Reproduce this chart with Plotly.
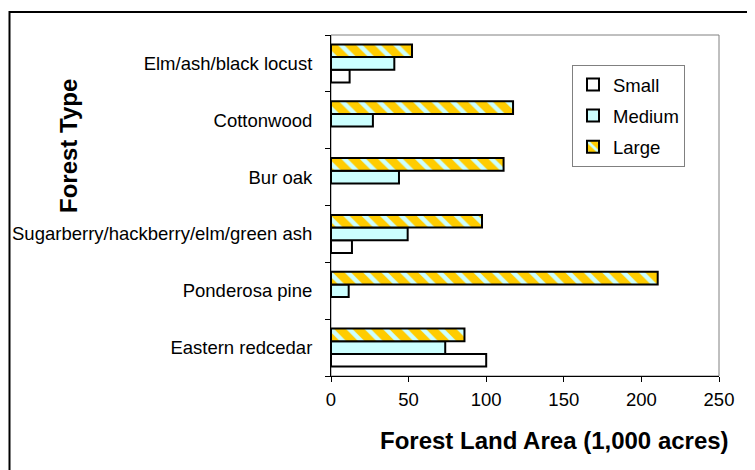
import plotly.graph_objects as go

forest_types = ["Eastern redcedar", "Ponderosa pine", "Sugarberry/hackberry/elm/green ash",
                "Bur oak", "Cottonwood", "Elm/ash/black locust"]
small = [100, None, 13.5, None, None, 12]
medium = [73.6, 11.4, 49.4, 43.8, 27, 40.8]
large = [86, 210.5, 97.3, 111.2, 117.3, 52.2]
x_ticks = [0, 50, 100, 150, 200, 250]

OFF = 8  # page body margin
W, H = 755 - OFF, 470 - OFF
L, R, T, B = 331, 719, 35, 376
pw, ph = R - L, B - T

def px(x):
    return (x - L) / pw

def py(y):
    return (B - y) / ph

font = "Liberation Sans, Arial, sans-serif"
line = dict(color="black", width=2)

fig = go.Figure()
fig.add_trace(go.Bar(y=forest_types, x=small, orientation="h", name="Small",
                     legendgroup="s", marker=dict(color="white", line=line)))
fig.add_trace(go.Bar(y=forest_types, x=medium, orientation="h", name="Medium",
                     legendgroup="m", marker=dict(color="#CCFFFF", line=line)))
fig.add_trace(go.Bar(y=forest_types, x=large, orientation="h", name="Large",
                     legendgroup="l",
                     marker=dict(color="#FFCC00", line=line,
                                 pattern=dict(shape="\\", fgcolor="#CCFFFF", bgcolor="#FFCC00",
                                              size=13, solidity=0.35, fillmode="replace"))))

fig.update_layout(
    width=W, height=H,
    margin=dict(l=L - OFF, r=755 - R, t=T - OFF, b=470 - B, autoexpand=False),
    paper_bgcolor="white", plot_bgcolor="white",
    barmode="group", bargap=0.33, bargroupgap=0,
    font=dict(family=font, size=18.5, color="black"),
    showlegend=True,
    legend=dict(x=px(572), y=py(65), xanchor="left", yanchor="top",
                traceorder="grouped", tracegroupgap=4,
                bordercolor="#808080", borderwidth=1, bgcolor="white",
                font=dict(size=18.5), itemwidth=30),
    xaxis=dict(range=[0, 250], tickvals=x_ticks, ticktext=[str(v) for v in x_ticks],
               showgrid=False, zeroline=False, showline=True, linecolor="black", linewidth=1,
               ticks="outside", ticklen=5, tickcolor="black", ticklabelstandoff=2,
               automargin=False),
    yaxis=dict(showgrid=False, zeroline=False, showline=True, linecolor="black", linewidth=1,
               ticks="outside", ticklen=5, tickcolor="black", tickson="boundaries",
               ticklabelstandoff=14, automargin=False),
    shapes=[
        dict(type="rect", xref="paper", yref="paper", x0=0, x1=1, y0=0, y1=1,
             line=dict(color="#808080", width=1), layer="below"),
        dict(type="rect", xref="paper", yref="paper", x0=px(9.5), x1=px(762), y0=py(480), y1=py(12),
             line=dict(color="black", width=2), layer="below"),
    ],
    annotations=[
        dict(text="<b>Forest Land Area (1,000 acres)</b>", xref="paper", yref="paper",
             x=px(554), y=py(440), xanchor="center", yanchor="middle", showarrow=False,
             font=dict(size=24, family=font)),
        dict(text="<b>Forest Type</b>", xref="paper", yref="paper",
             x=px(68), y=py(146), xanchor="center", yanchor="middle", showarrow=False,
             textangle=-90, font=dict(size=24, family=font)),
    ],
)

fig.write_html("out.html")
